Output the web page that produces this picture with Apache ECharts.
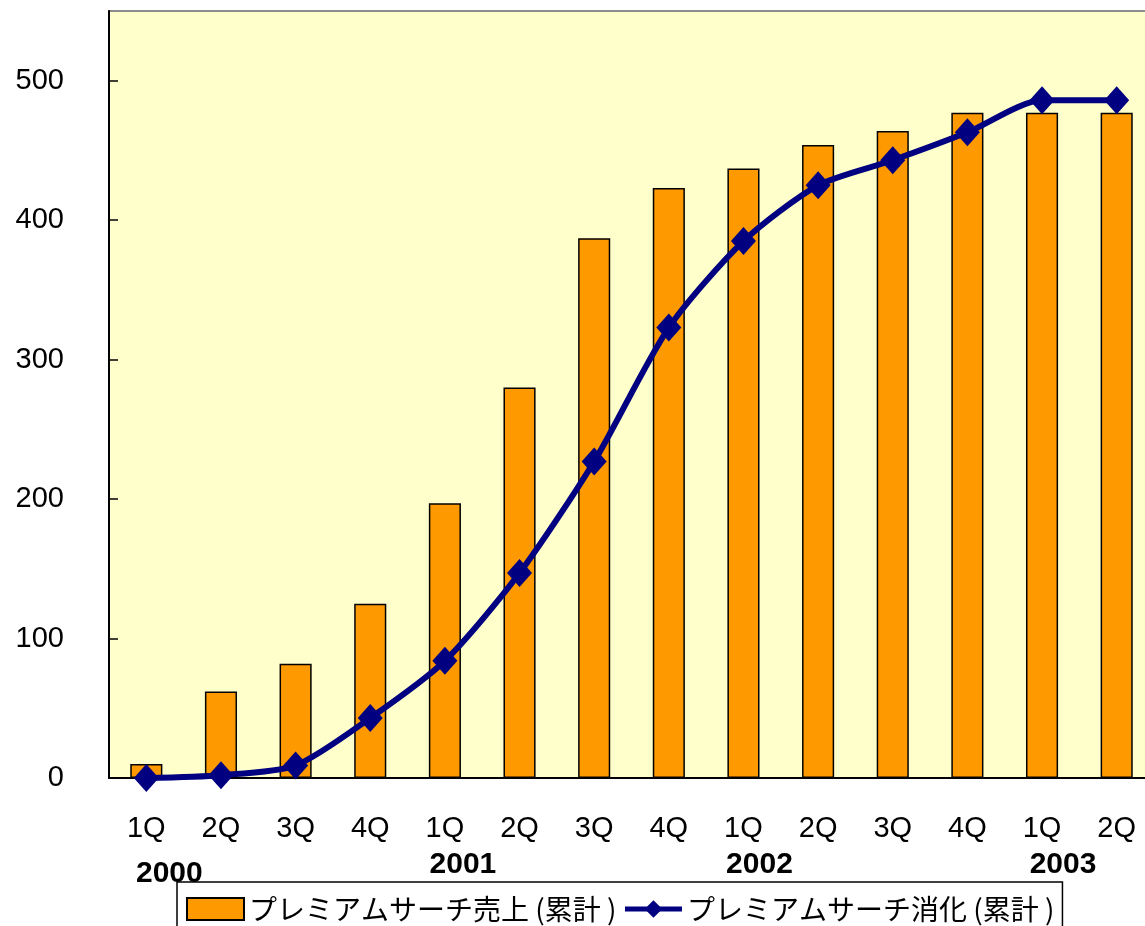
<!DOCTYPE html>
<html>
<head>
<meta charset="utf-8">
<script src="https://cdn.jsdelivr.net/npm/echarts@6/dist/echarts.min.js"></script>
<style>
html,body{margin:0;padding:0;background:#fff;}
#c{width:1145px;height:926px;}
</style>
</head>
<body>
<div id="c"></div>
<script>
const categories = ['1Q','2Q','3Q','4Q','1Q','2Q','3Q','4Q','1Q','2Q','3Q','4Q','1Q','2Q'];
const yearLabels = ['2000','2001','2002','2003'];
const yearIndex = [0, 4, 8, 12];
const salesName = 'プレミアムサーチ売上 (累計 )';
const usedName = 'プレミアムサーチ消化 (累計 )';
const salesValues = [10, 62, 82, 125, 197, 280, 387, 423, 437, 454, 464, 477, 477, 477];
const usedValues = [0, 2, 9, 43, 84, 147, 227, 323, 385, 425, 443, 463, 486, 486];
const yTicks = [0, 100, 200, 300, 400, 500];

const chart = echarts.init(document.getElementById('c'));
const option = {
  animation: false,
  backgroundColor: '#ffffff',
  grid: {
    left: 109, top: 11, width: 1045, bottom: 148,
    outerBoundsMode: 'none', containLabel: false,
    show: true, backgroundColor: '#FFFFCC', borderColor: '#8c8c8c', borderWidth: 2
  },
  legend: {
    left: 177, top: 882,
    padding: [13, 8, 10, 9],
    itemGap: 6,
    itemWidth: 57, itemHeight: 22,
    backgroundColor: '#ffffff',
    borderColor: '#000', borderWidth: 1.5, borderRadius: 0,
    textStyle: { fontFamily: 'Noto Sans CJK JP', fontSize: 28, color: '#000' },
    lineStyle: { width: 5, color: '#000080' },
    data: [{ name: salesName, icon: 'rect' }, { name: usedName }]
  },
  xAxis: {
    type: 'category',
    data: categories,
    boundaryGap: true,
    axisLine: { lineStyle: { color: '#000', width: 2 } },
    axisTick: { inside: true, length: 10, lineStyle: { color: '#000', width: 1.5 } },
    axisLabel: { margin: 36, fontFamily: 'Liberation Sans', fontSize: 29, color: '#000' },
    splitLine: { show: false }
  },
  yAxis: {
    type: 'value',
    min: yTicks[0], max: 550, interval: 100,
    axisLine: { show: true, lineStyle: { color: '#000', width: 2 } },
    axisTick: { show: true, inside: true, length: 9, lineStyle: { color: '#000', width: 1.5 } },
    axisLabel: { margin: 45, showMaxLabel: false, fontFamily: 'Liberation Sans', fontSize: 29, color: '#000' },
    splitLine: { show: false }
  },
  series: [
    {
      name: salesName,
      type: 'bar',
      data: salesValues,
      barWidth: '43%',
      itemStyle: { color: '#FF9900', borderColor: '#000', borderWidth: 1.5 },
      z: 2
    },
    {
      name: usedName,
      type: 'line',
      data: usedValues,
      smooth: 0.25,
      symbol: 'diamond',
      symbolSize: [25, 28],
      itemStyle: { color: '#000080' },
      lineStyle: { color: '#000080', width: 6 },
      z: 3
    }
  ]
};
chart.setOption(option);

const yearOffsets = [[23, 96], [18, 87], [16, 87], [21, 87]];
const g = yearLabels.map((t, i) => {
  const px = chart.convertToPixel({ xAxisIndex: 0 }, yearIndex[i]);
  const py = chart.convertToPixel({ yAxisIndex: 0 }, 0);
  return {
    type: 'text', z: 1,
    x: px + yearOffsets[i][0], y: py + yearOffsets[i][1],
    style: { text: t, fontFamily: 'Liberation Sans', fontWeight: 'bold', fontSize: 30, fill: '#000', align: 'center', verticalAlign: 'middle' }
  };
});
chart.setOption({ graphic: g });
</script>
</body>
</html>
